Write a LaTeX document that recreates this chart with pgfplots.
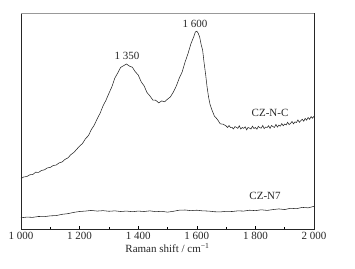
\documentclass[border=0pt]{standalone}
\usepackage{fontspec}
\setmainfont{Liberation Serif}
\usepackage{pgfplots}
\pgfplotsset{compat=1.18}
\begin{document}
\begin{tikzpicture}[font=\fontsize{11}{13}\selectfont]
\path[use as bounding box] (-21pt,-39pt) rectangle (334pt,229pt);
\begin{axis}[
  at={(0,0)}, anchor=south west,
  scale only axis, width=293pt, height=216pt,
  xmin=1000, xmax=2000, ymin=0, ymax=100,
  xtick={1000,1200,1400,1600,1800,2000},
  xticklabels={1~000,1~200,1~400,1~600,1~800,2~000},
  minor x tick num=1,
  ytick=\empty,
  tick align=inside, xtick pos=lower,
  major tick length=3pt, minor tick length=2pt,
  tick style={black, line width=0.6pt},
  axis line style={black!85, line width=0.8pt},
  xticklabel style={text=black!85},
  xlabel={Raman shift / cm\textsuperscript{−1}},
  xlabel style={yshift=3pt, text=black!85},
  clip=false,
]
\addplot[black!85, line width=0.55pt] coordinates {
(1000,23.4)(1010,24.1)(1020,24.3)(1030,25.1)(1040,25.2)(1050,26.3)(1060,26.2)(1070,27.1)(1080,27.4)(1090,28.3)
(1100,28.5)(1110,29.4)(1120,29.6)(1130,30.6)(1140,31.0)(1150,32.2)(1160,32.9)(1170,34.4)(1180,35.4)(1190,36.9)
(1200,38.4)(1210,39.6)(1220,41.8)(1230,43.2)(1240,46.0)(1250,48.1)(1260,51.0)(1270,53.6)(1280,57.0)(1290,59.6)
(1300,62.8)(1310,65.8)(1320,69.8)(1330,72.2)(1340,74.8)(1350,75.6)(1360,76.4)(1370,75.4)(1380,74.9)(1390,72.8)
(1400,71.3)(1410,68.2)(1420,66.3)(1430,63.2)(1440,61.6)(1450,59.7)(1460,59.6)(1470,58.4)(1480,59.3)(1490,58.9)
(1500,60.1)(1510,61.2)(1520,63.4)(1530,66.2)(1540,69.8)(1550,72.7)(1560,77.3)(1570,81.2)(1580,85.8)(1590,89.2)
(1595,91.2)(1600,91.6)(1605,90.6)(1610,88.7)(1615,85.3)(1620,82.7)(1625,76.8)(1630,71.7)(1635,65.8)(1640,61.2)
(1645,57.8)(1650,55.7)(1660,52.3)(1670,50.8)(1680,48.7)(1690,48.5)
(1700,47.7)(1705,47.0)(1710,47.9)(1715,47.0)(1720,47.1)(1725,46.3)(1730,47.4)(1735,47.1)(1740,46.6)(1745,47.8)
(1750,46.3)(1755,47.0)(1760,46.6)(1765,47.3)(1770,45.9)(1775,47.0)(1780,46.7)(1785,46.3)(1790,47.6)(1795,46.5)
(1800,47.0)(1805,46.2)(1810,47.5)(1815,46.9)(1820,46.7)(1825,47.9)(1830,46.5)(1835,47.2)(1840,47.0)(1845,47.8)
(1850,46.6)(1855,47.9)(1860,47.4)(1865,47.0)(1870,48.4)(1875,47.2)(1880,48.1)(1885,47.6)(1890,48.8)(1895,47.8)
(1900,48.6)(1905,48.2)(1910,49.4)(1915,48.3)(1920,48.9)(1925,49.8)(1930,48.7)(1935,49.6)(1940,49.3)(1945,50.5)
(1950,49.4)(1955,50.2)(1960,50.8)(1965,49.9)(1970,51.2)(1975,50.4)(1980,51.6)(1985,50.8)(1990,52.0)(1995,51.3)(2000,52.2)
};
\addplot[black!85, line width=0.55pt] coordinates {
(1000,5.2)(1020,5.5)(1040,5.4)(1060,5.8)(1080,5.7)(1100,6.1)(1120,6.2)(1140,6.8)(1160,7.1)(1180,7.7)
(1200,8.1)(1220,8.3)(1240,8.6)(1260,8.3)(1280,8.5)(1300,8.2)(1320,8.4)(1340,8.1)(1360,8.3)(1380,8.0)
(1400,8.3)(1420,8.1)(1440,8.4)(1460,8.0)(1480,8.2)(1500,7.8)(1520,8.2)(1540,8.7)(1560,8.8)(1580,8.5)
(1600,8.7)(1620,8.4)(1640,8.3)(1660,8.0)(1680,7.9)(1700,8.2)(1720,8.1)(1740,8.4)(1760,8.3)(1780,8.7)
(1800,8.5)(1820,8.9)(1840,8.6)(1860,9.0)(1880,9.3)(1900,9.0)(1920,9.6)(1940,9.4)(1960,10.0)(1980,9.8)(2000,10.5)
};
\draw[gray!80, line width=0.8pt] (rel axis cs:0,1) -- (rel axis cs:1,1);
\node[text=black!85] at (axis cs:1362,80.1) {1~350};
\node[text=black!85] at (axis cs:1594,94.9) {1~600};
\node[text=black!85] at (axis cs:1850,53.7) {CZ-N-C};
\node[text=black!85] at (axis cs:1833,15.3) {CZ-N7};
\end{axis}
\end{tikzpicture}
\end{document}
